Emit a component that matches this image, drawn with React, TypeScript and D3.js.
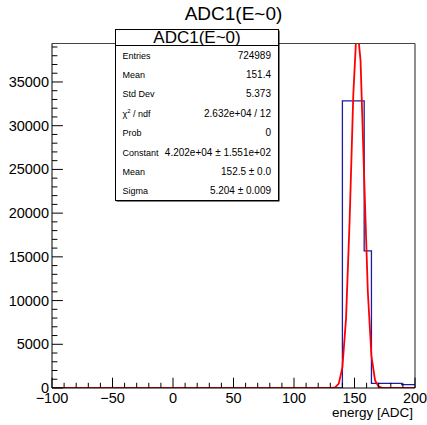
import React from "react";
import * as d3 from "d3";

// ---- data ----
const binEdges = [-100, 140, 158, 164, 189, 200];
const binCounts = [0, 32840, 15675, 540, 380];

const fitConstant = 42020;
const fitMean = 152.5;
const fitSigma = 5.204;
const fitNpx = 100;

const xMajorTicks = [-100, -50, 0, 50, 100, 150, 200];
const yMajorTicks = [0, 5000, 10000, 15000, 20000, 25000, 30000, 35000];

const titleText = "ADC1(E~0)";
const xAxisTitle = "energy [ADC]";
const statLabels = ["Entries", "Mean", "Std Dev", "CHI", "Prob", "Constant", "Mean", "Sigma"];
const statValues = ["724989", "151.4", "5.373", "2.632e+04 / 12", "0", "4.202e+04 ± 1.551e+02", "152.5 ± 0.0", "5.204 ± 0.009"];

const W = 427;
const H = 425;
const FL = 52, FR = 415, FT = 43.5, FB = 388;
const FONT = "'Liberation Sans', Arial, Helvetica, sans-serif";

export default function App() {
  const x = d3.scaleLinear().domain([-100, 200]).range([FL, FR]);
  const y = d3.scaleLinear().domain([0, 39400]).range([FB, FT]);

  // histogram step path
  const pts: [number, number][] = [];
  pts.push([binEdges[0], 0]);
  binCounts.forEach((c, i) => {
    pts.push([binEdges[i], c]);
    pts.push([binEdges[i + 1], c]);
  });
  const histPath = d3.line<[number, number]>().x(d => x(d[0])).y(d => y(d[1]))(pts) || "";

  // fit function sampled like ROOT TF1 (npx points over axis range)
  const fpts: [number, number][] = [];
  const [x0, x1] = x.domain();
  for (let i = 0; i <= fitNpx; i++) {
    const xv = x0 + ((x1 - x0) * i) / fitNpx;
    const v = fitConstant * Math.exp(-0.5 * ((xv - fitMean) / fitSigma) ** 2);
    fpts.push([xv, v]);
  }
  const fitPath = d3.line<[number, number]>().x(d => x(d[0])).y(d => y(d[1]))(fpts) || "";

  const xMinor = d3.range(-100, 201, 10).filter(v => !xMajorTicks.includes(v));
  const yMinor = d3.range(0, 39401, 1000).filter(v => !yMajorTicks.includes(v));

  const fmtX = (v: number) => (v < 0 ? "\u2212" + Math.abs(v) : String(v));

  const box = { x: 115.5, y: 29.5, w: 163, h: 171, head: 16 };
  const rowH = (box.h - box.head) / statLabels.length;

  return (
    <svg width={W} height={H} style={{ position: "absolute", left: 0, top: 0, background: "#fff" }} fontFamily={FONT}>
      <defs>
        <clipPath id="frameClip">
          <rect x={FL} y={FT} width={FR - FL} height={FB - FT} />
        </clipPath>
      </defs>
      <rect x={0} y={0} width={W} height={H} fill="#fff" />

      {/* histogram */}
      <path d={histPath} fill="none" stroke="#1c1ca0" strokeWidth={1.3} clipPath="url(#frameClip)" />
      {/* fit */}
      <path d={fitPath} fill="none" stroke="#ff0000" strokeWidth={1.8} clipPath="url(#frameClip)" />

      {/* frame */}
      <line x1={FL} x2={FR} y1={FT} y2={FT} stroke="#444" strokeWidth={1.2} />
      <line x1={FR} x2={FR} y1={FT} y2={FB} stroke="#444" strokeWidth={1.2} />

      {/* x axis */}
      <line x1={FL} x2={FR} y1={FB} y2={FB} stroke="#000" strokeWidth={1} />
      {xMajorTicks.map(v => (
        <line key={"xM" + v} x1={x(v)} x2={x(v)} y1={FB} y2={FB - 10.3} stroke="#000" strokeWidth={1} />
      ))}
      {xMinor.map(v => (
        <line key={"xm" + v} x1={x(v)} x2={x(v)} y1={FB} y2={FB - 5.2} stroke="#000" strokeWidth={1} />
      ))}
      {xMajorTicks.map(v => (
        <text key={"xl" + v} x={x(v)} y={402.5} fontSize={14.5} textAnchor="middle" fill="#000">
          {fmtX(v)}
        </text>
      ))}
      <text x={FR - 2} y={417} fontSize={13.5} textAnchor="end" fill="#000">{xAxisTitle}</text>

      {/* y axis */}
      <line x1={FL} x2={FL} y1={FB} y2={FT} stroke="#000" strokeWidth={1} />
      {yMajorTicks.map(v => (
        <line key={"yM" + v} x1={FL} x2={FL + 10.9} y1={y(v)} y2={y(v)} stroke="#000" strokeWidth={1} />
      ))}
      {yMinor.map(v => (
        <line key={"ym" + v} x1={FL} x2={FL + 5.4} y1={y(v)} y2={y(v)} stroke="#000" strokeWidth={1} />
      ))}
      {yMajorTicks.map(v => (
        <text key={"yl" + v} x={49} y={y(v) + 5} fontSize={14.5} textAnchor="end" fill="#000">
          {String(v)}
        </text>
      ))}

      {/* title */}
      <text x={233.5} y={19.5} fontSize={19} textAnchor="middle" fill="#000">{titleText}</text>

      {/* stats box */}
      <rect x={box.x + 1} y={box.y + 1} width={box.w} height={box.h} fill="#000" />
      <rect x={box.x} y={box.y} width={box.w} height={box.h} fill="#fff" stroke="#000" strokeWidth={1} />
      <line x1={box.x} x2={box.x + box.w} y1={box.y + box.head} y2={box.y + box.head} stroke="#000" strokeWidth={1} />
      <text x={box.x + box.w / 2} y={box.y + 13.8} fontSize={17} textAnchor="middle" fill="#000">{titleText}</text>
      {statLabels.map((lab, i) => {
        const cy = box.y + box.head + (i + 0.5) * rowH + 3.5;
        return (
          <g key={"s" + i}>
            <text x={122.5} y={cy} fontSize={9} fill="#000">
              {lab === "CHI" ? (
                <>
                  {"\u03C7"}
                  <tspan fontSize={6} dy={-3.5}>2</tspan>
                  <tspan dy={3.5}>{" / ndf"}</tspan>
                </>
              ) : lab}
            </text>
            <text x={271} y={cy} fontSize={10} textAnchor="end" fill="#000">{statValues[i]}</text>
          </g>
        );
      })}
    </svg>
  );
}
